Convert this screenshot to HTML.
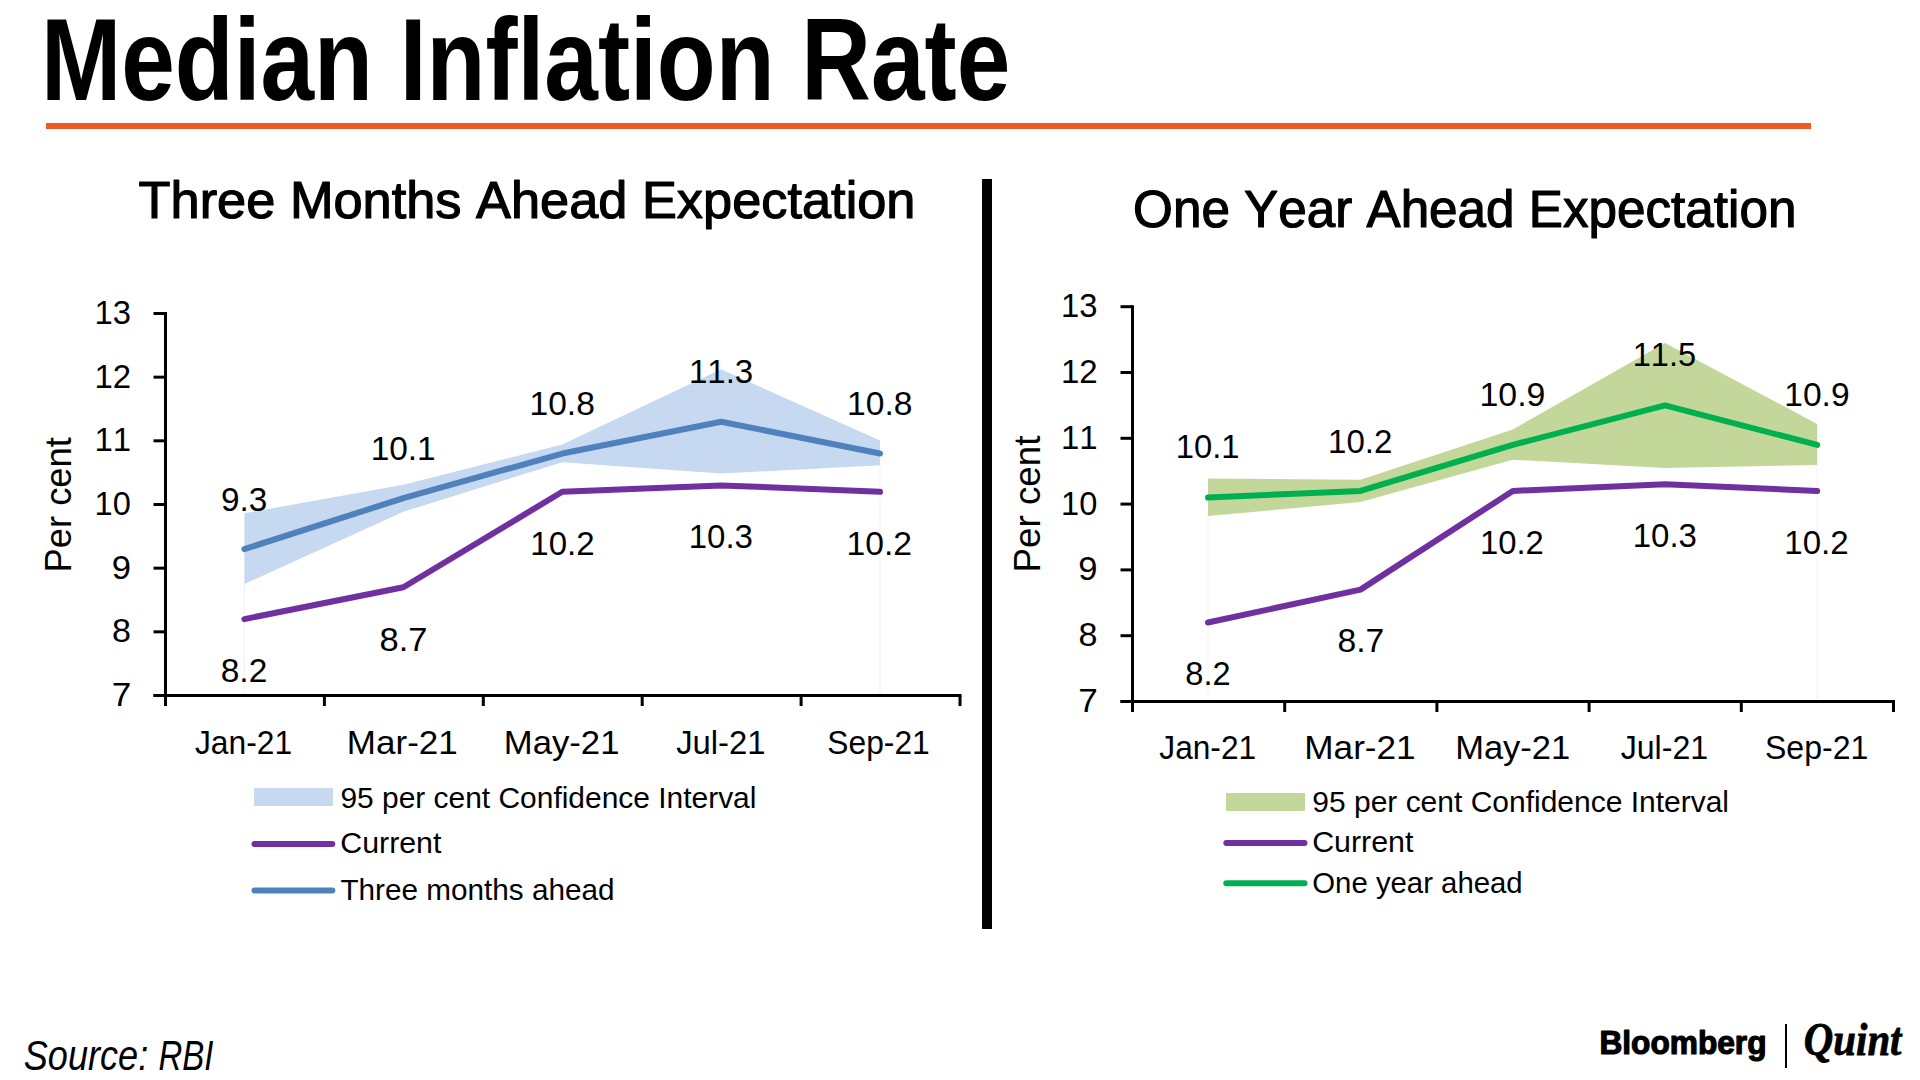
<!DOCTYPE html>
<html><head><meta charset="utf-8"><style>
html,body{margin:0;padding:0;background:#fff;width:1920px;height:1080px;overflow:hidden}
svg{display:block}
text{font-kerning:none;font-family:"Liberation Sans",sans-serif}
</style></head><body>
<svg width="1920" height="1080" viewBox="0 0 1920 1080">
<text x="40.95" y="100.30" font-size="116.28" textLength="969.34" lengthAdjust="spacingAndGlyphs" style="font-family:'Liberation Sans';font-weight:bold;" fill="#000">Median Inflation Rate</text>
<rect x="46" y="123" width="1765" height="6" fill="#EF5A24"/>
<text x="138.62" y="218.40" font-size="52.04" textLength="776.87" lengthAdjust="spacingAndGlyphs" style="font-family:'Liberation Sans';" fill="#000" stroke="#000" stroke-width="1.2" stroke-linejoin="round">Three Months Ahead Expectation</text>
<text x="1133.07" y="227.40" font-size="52.33" textLength="663.35" lengthAdjust="spacingAndGlyphs" style="font-family:'Liberation Sans';" fill="#000" stroke="#000" stroke-width="1.2" stroke-linejoin="round">One Year Ahead Expectation</text>
<rect x="982" y="179" width="10" height="750" fill="#000"/>
<polygon points="244.4,513.3 403.4,484.8 562.3,444.5 721.1,369.3 880.0,440.5 880.0,465.3 721.1,473.6 562.3,462.2 403.4,511.7 244.4,584.0" fill="#C6D9F0"/>
<rect x="243.9" y="584.0" width="1" height="110.0" fill="#EDF2FA"/>
<rect x="879.5" y="465.3" width="1" height="228.7" fill="#EDF2FA"/>
<polyline points="244.4,619.10 403.4,587.26 562.3,491.76 721.1,485.39 880.0,491.76" fill="none" stroke="#7030A0" stroke-width="6" stroke-linecap="round" stroke-linejoin="round"/>
<polyline points="244.4,549.06 403.4,498.12 562.3,453.55 721.1,421.72 880.0,453.55" fill="none" stroke="#4F81BD" stroke-width="6" stroke-linecap="round" stroke-linejoin="round"/>
<g stroke="#000" stroke-width="3" fill="none">
<line x1="165.5" y1="311.98" x2="165.5" y2="706.0"/>
<line x1="153.5" y1="695.5" x2="961.5" y2="695.5"/>
<line x1="153.5" y1="695.50" x2="165.5" y2="695.50"/>
<line x1="153.5" y1="631.83" x2="165.5" y2="631.83"/>
<line x1="153.5" y1="568.16" x2="165.5" y2="568.16"/>
<line x1="153.5" y1="504.49" x2="165.5" y2="504.49"/>
<line x1="153.5" y1="440.82" x2="165.5" y2="440.82"/>
<line x1="153.5" y1="377.15" x2="165.5" y2="377.15"/>
<line x1="153.5" y1="313.48" x2="165.5" y2="313.48"/>
<line x1="324.4" y1="695.5" x2="324.4" y2="706.0"/>
<line x1="483.3" y1="695.5" x2="483.3" y2="706.0"/>
<line x1="642.2" y1="695.5" x2="642.2" y2="706.0"/>
<line x1="801.1" y1="695.5" x2="801.1" y2="706.0"/>
<line x1="960.0" y1="695.5" x2="960.0" y2="706.0"/>
</g>
<text x="111.70" y="706.00" font-size="33.14" textLength="19.57" lengthAdjust="spacingAndGlyphs" style="font-family:'Liberation Sans';" fill="#000">7</text>
<text x="112.02" y="642.33" font-size="33.14" textLength="18.96" lengthAdjust="spacingAndGlyphs" style="font-family:'Liberation Sans';" fill="#000">8</text>
<text x="111.88" y="578.66" font-size="33.14" textLength="19.26" lengthAdjust="spacingAndGlyphs" style="font-family:'Liberation Sans';" fill="#000">9</text>
<text x="94.52" y="514.99" font-size="33.14" textLength="36.26" lengthAdjust="spacingAndGlyphs" style="font-family:'Liberation Sans';" fill="#000">10</text>
<text x="94.49" y="451.32" font-size="33.14" textLength="36.61" lengthAdjust="spacingAndGlyphs" style="font-family:'Liberation Sans';" fill="#000">11</text>
<text x="94.49" y="387.65" font-size="33.14" textLength="36.67" lengthAdjust="spacingAndGlyphs" style="font-family:'Liberation Sans';" fill="#000">12</text>
<text x="94.50" y="323.98" font-size="33.14" textLength="36.43" lengthAdjust="spacingAndGlyphs" style="font-family:'Liberation Sans';" fill="#000">13</text>
<text x="194.95" y="754.00" font-size="33.14" textLength="97.15" lengthAdjust="spacingAndGlyphs" style="font-family:'Liberation Sans';" fill="#000">Jan-21</text>
<text x="346.88" y="754.00" font-size="33.14" textLength="110.88" lengthAdjust="spacingAndGlyphs" style="font-family:'Liberation Sans';" fill="#000">Mar-21</text>
<text x="503.81" y="754.00" font-size="33.14" textLength="115.64" lengthAdjust="spacingAndGlyphs" style="font-family:'Liberation Sans';" fill="#000">May-21</text>
<text x="676.14" y="754.00" font-size="33.14" textLength="89.42" lengthAdjust="spacingAndGlyphs" style="font-family:'Liberation Sans';" fill="#000">Jul-21</text>
<text x="827.36" y="754.00" font-size="33.14" textLength="102.39" lengthAdjust="spacingAndGlyphs" style="font-family:'Liberation Sans';" fill="#000">Sep-21</text>
<text x="220.94" y="510.70" font-size="33.14" textLength="46.33" lengthAdjust="spacingAndGlyphs" style="font-family:'Liberation Sans';" fill="#000">9.3</text>
<text x="370.66" y="459.70" font-size="33.14" textLength="64.97" lengthAdjust="spacingAndGlyphs" style="font-family:'Liberation Sans';" fill="#000">10.1</text>
<text x="529.54" y="414.80" font-size="33.14" textLength="65.31" lengthAdjust="spacingAndGlyphs" style="font-family:'Liberation Sans';" fill="#000">10.8</text>
<text x="688.88" y="382.50" font-size="33.14" textLength="64.37" lengthAdjust="spacingAndGlyphs" style="font-family:'Liberation Sans';" fill="#000">11.3</text>
<text x="847.14" y="414.80" font-size="33.14" textLength="65.31" lengthAdjust="spacingAndGlyphs" style="font-family:'Liberation Sans';" fill="#000">10.8</text>
<text x="220.75" y="682.20" font-size="33.14" textLength="46.54" lengthAdjust="spacingAndGlyphs" style="font-family:'Liberation Sans';" fill="#000">8.2</text>
<text x="379.50" y="650.70" font-size="33.14" textLength="47.93" lengthAdjust="spacingAndGlyphs" style="font-family:'Liberation Sans';" fill="#000">8.7</text>
<text x="530.28" y="554.90" font-size="33.14" textLength="64.28" lengthAdjust="spacingAndGlyphs" style="font-family:'Liberation Sans';" fill="#000">10.2</text>
<text x="688.68" y="548.40" font-size="33.14" textLength="64.27" lengthAdjust="spacingAndGlyphs" style="font-family:'Liberation Sans';" fill="#000">10.3</text>
<text x="846.43" y="554.50" font-size="33.14" textLength="65.56" lengthAdjust="spacingAndGlyphs" style="font-family:'Liberation Sans';" fill="#000">10.2</text>
<polygon points="1208.0,478.6 1360.5,479.7 1512.8,429.4 1665.0,342.9 1817.2,424.0 1817.2,465.1 1665.0,468.0 1512.8,459.7 1360.5,502.0 1208.0,516.1" fill="#C4D79B"/>
<rect x="1207.5" y="516.1" width="1" height="183.9" fill="#F1F5E8"/>
<rect x="1816.7" y="465.1" width="1" height="234.9" fill="#F1F5E8"/>
<polyline points="1208.0,622.54 1360.5,589.64 1512.8,490.94 1665.0,484.36 1817.2,490.94" fill="none" stroke="#7030A0" stroke-width="6" stroke-linecap="round" stroke-linejoin="round"/>
<polyline points="1208.0,497.52 1360.5,490.94 1512.8,444.88 1665.0,405.40 1817.2,444.88" fill="none" stroke="#00B050" stroke-width="6" stroke-linecap="round" stroke-linejoin="round"/>
<g stroke="#000" stroke-width="3" fill="none">
<line x1="1132.5" y1="305.20000000000005" x2="1132.5" y2="712.0"/>
<line x1="1120.5" y1="701.5" x2="1895.0" y2="701.5"/>
<line x1="1120.5" y1="701.50" x2="1132.5" y2="701.50"/>
<line x1="1120.5" y1="635.70" x2="1132.5" y2="635.70"/>
<line x1="1120.5" y1="569.90" x2="1132.5" y2="569.90"/>
<line x1="1120.5" y1="504.10" x2="1132.5" y2="504.10"/>
<line x1="1120.5" y1="438.30" x2="1132.5" y2="438.30"/>
<line x1="1120.5" y1="372.50" x2="1132.5" y2="372.50"/>
<line x1="1120.5" y1="306.70" x2="1132.5" y2="306.70"/>
<line x1="1284.7" y1="701.5" x2="1284.7" y2="712.0"/>
<line x1="1436.9" y1="701.5" x2="1436.9" y2="712.0"/>
<line x1="1589.1" y1="701.5" x2="1589.1" y2="712.0"/>
<line x1="1741.3" y1="701.5" x2="1741.3" y2="712.0"/>
<line x1="1893.5" y1="701.5" x2="1893.5" y2="712.0"/>
</g>
<text x="1078.20" y="712.00" font-size="33.14" textLength="19.57" lengthAdjust="spacingAndGlyphs" style="font-family:'Liberation Sans';" fill="#000">7</text>
<text x="1078.52" y="646.20" font-size="33.14" textLength="18.96" lengthAdjust="spacingAndGlyphs" style="font-family:'Liberation Sans';" fill="#000">8</text>
<text x="1078.38" y="580.40" font-size="33.14" textLength="19.26" lengthAdjust="spacingAndGlyphs" style="font-family:'Liberation Sans';" fill="#000">9</text>
<text x="1061.02" y="514.60" font-size="33.14" textLength="36.26" lengthAdjust="spacingAndGlyphs" style="font-family:'Liberation Sans';" fill="#000">10</text>
<text x="1060.99" y="448.80" font-size="33.14" textLength="36.61" lengthAdjust="spacingAndGlyphs" style="font-family:'Liberation Sans';" fill="#000">11</text>
<text x="1060.99" y="383.00" font-size="33.14" textLength="36.67" lengthAdjust="spacingAndGlyphs" style="font-family:'Liberation Sans';" fill="#000">12</text>
<text x="1061.00" y="317.20" font-size="33.14" textLength="36.43" lengthAdjust="spacingAndGlyphs" style="font-family:'Liberation Sans';" fill="#000">13</text>
<text x="1159.31" y="759.20" font-size="33.14" textLength="96.84" lengthAdjust="spacingAndGlyphs" style="font-family:'Liberation Sans';" fill="#000">Jan-21</text>
<text x="1304.31" y="759.20" font-size="33.14" textLength="111.40" lengthAdjust="spacingAndGlyphs" style="font-family:'Liberation Sans';" fill="#000">Mar-21</text>
<text x="1455.17" y="759.20" font-size="33.14" textLength="115.12" lengthAdjust="spacingAndGlyphs" style="font-family:'Liberation Sans';" fill="#000">May-21</text>
<text x="1620.65" y="759.20" font-size="33.14" textLength="87.57" lengthAdjust="spacingAndGlyphs" style="font-family:'Liberation Sans';" fill="#000">Jul-21</text>
<text x="1764.94" y="759.20" font-size="33.14" textLength="103.42" lengthAdjust="spacingAndGlyphs" style="font-family:'Liberation Sans';" fill="#000">Sep-21</text>
<text x="1175.80" y="458.30" font-size="33.14" textLength="63.80" lengthAdjust="spacingAndGlyphs" style="font-family:'Liberation Sans';" fill="#000">10.1</text>
<text x="1328.08" y="452.80" font-size="33.14" textLength="64.38" lengthAdjust="spacingAndGlyphs" style="font-family:'Liberation Sans';" fill="#000">10.2</text>
<text x="1479.52" y="406.20" font-size="33.14" textLength="65.88" lengthAdjust="spacingAndGlyphs" style="font-family:'Liberation Sans';" fill="#000">10.9</text>
<text x="1632.72" y="366.20" font-size="33.14" textLength="63.35" lengthAdjust="spacingAndGlyphs" style="font-family:'Liberation Sans';" fill="#000">11.5</text>
<text x="1784.24" y="406.20" font-size="33.14" textLength="65.35" lengthAdjust="spacingAndGlyphs" style="font-family:'Liberation Sans';" fill="#000">10.9</text>
<text x="1185.29" y="685.30" font-size="33.14" textLength="45.25" lengthAdjust="spacingAndGlyphs" style="font-family:'Liberation Sans';" fill="#000">8.2</text>
<text x="1337.44" y="652.00" font-size="33.14" textLength="46.75" lengthAdjust="spacingAndGlyphs" style="font-family:'Liberation Sans';" fill="#000">8.7</text>
<text x="1480.00" y="553.60" font-size="33.14" textLength="63.85" lengthAdjust="spacingAndGlyphs" style="font-family:'Liberation Sans';" fill="#000">10.2</text>
<text x="1632.68" y="547.40" font-size="33.14" textLength="64.27" lengthAdjust="spacingAndGlyphs" style="font-family:'Liberation Sans';" fill="#000">10.3</text>
<text x="1784.28" y="553.50" font-size="33.14" textLength="64.38" lengthAdjust="spacingAndGlyphs" style="font-family:'Liberation Sans';" fill="#000">10.2</text>
<g transform="translate(71.3,569.6) rotate(-90)"><text x="-2.99" y="0" font-size="37.21" textLength="135.55" lengthAdjust="spacingAndGlyphs" style="font-family:'Liberation Sans'">Per cent</text></g>
<g transform="translate(1040.2,569.6) rotate(-90)"><text x="-3.02" y="0" font-size="37.79" textLength="137.19" lengthAdjust="spacingAndGlyphs" style="font-family:'Liberation Sans'">Per cent</text></g>
<rect x="254" y="788" width="79" height="18" fill="#C6D9F0"/>
<text x="340.40" y="807.60" font-size="30.23" textLength="416.01" lengthAdjust="spacingAndGlyphs" style="font-family:'Liberation Sans';" fill="#000">95 per cent Confidence Interval</text>
<text x="340.26" y="853.00" font-size="30.23" textLength="101.16" lengthAdjust="spacingAndGlyphs" style="font-family:'Liberation Sans';" fill="#000">Current</text>
<line x1="254.5" y1="843.9" x2="332.3" y2="843.9" stroke="#7030A0" stroke-width="6" stroke-linecap="round"/>
<text x="340.43" y="899.60" font-size="30.23" textLength="274.08" lengthAdjust="spacingAndGlyphs" style="font-family:'Liberation Sans';" fill="#000">Three months ahead</text>
<line x1="254.5" y1="890.6" x2="332.3" y2="890.6" stroke="#4F81BD" stroke-width="6" stroke-linecap="round"/>
<rect x="1226" y="793" width="79" height="18" fill="#C4D79B"/>
<text x="1312.29" y="812.30" font-size="30.23" textLength="416.71" lengthAdjust="spacingAndGlyphs" style="font-family:'Liberation Sans';" fill="#000">95 per cent Confidence Interval</text>
<text x="1312.16" y="851.80" font-size="30.23" textLength="101.26" lengthAdjust="spacingAndGlyphs" style="font-family:'Liberation Sans';" fill="#000">Current</text>
<line x1="1226.3" y1="843" x2="1304.5" y2="843" stroke="#7030A0" stroke-width="6" stroke-linecap="round"/>
<text x="1312.31" y="893.00" font-size="30.23" textLength="210.38" lengthAdjust="spacingAndGlyphs" style="font-family:'Liberation Sans';" fill="#000">One year ahead</text>
<line x1="1226.3" y1="883.3" x2="1304.5" y2="883.3" stroke="#00B050" stroke-width="6" stroke-linecap="round"/>
<text x="23.78" y="1070.00" font-size="41.86" textLength="124.47" lengthAdjust="spacingAndGlyphs" style="font-family:'Liberation Sans';font-style:italic;" fill="#000">Source:</text>
<text x="158.39" y="1070.00" font-size="41.86" textLength="54.99" lengthAdjust="spacingAndGlyphs" style="font-family:'Liberation Sans';font-style:italic;" fill="#000">RBI</text>
<text x="1599.38" y="1054.20" font-size="33.72" textLength="167.14" lengthAdjust="spacingAndGlyphs" style="font-family:'Liberation Sans';font-weight:bold;" fill="#000" stroke="#000" stroke-width="1.2" stroke-linejoin="round">Bloomberg</text>
<rect x="1785" y="1024" width="2" height="44" fill="#000"/>
<text x="1803.82" y="1055.10" font-size="45.42" textLength="97.66" lengthAdjust="spacingAndGlyphs" style="font-family:'Liberation Serif';font-weight:bold;font-style:italic;" fill="#000" stroke="#000" stroke-width="0.8" stroke-linejoin="round">Quint</text>
</svg>
</body></html>
